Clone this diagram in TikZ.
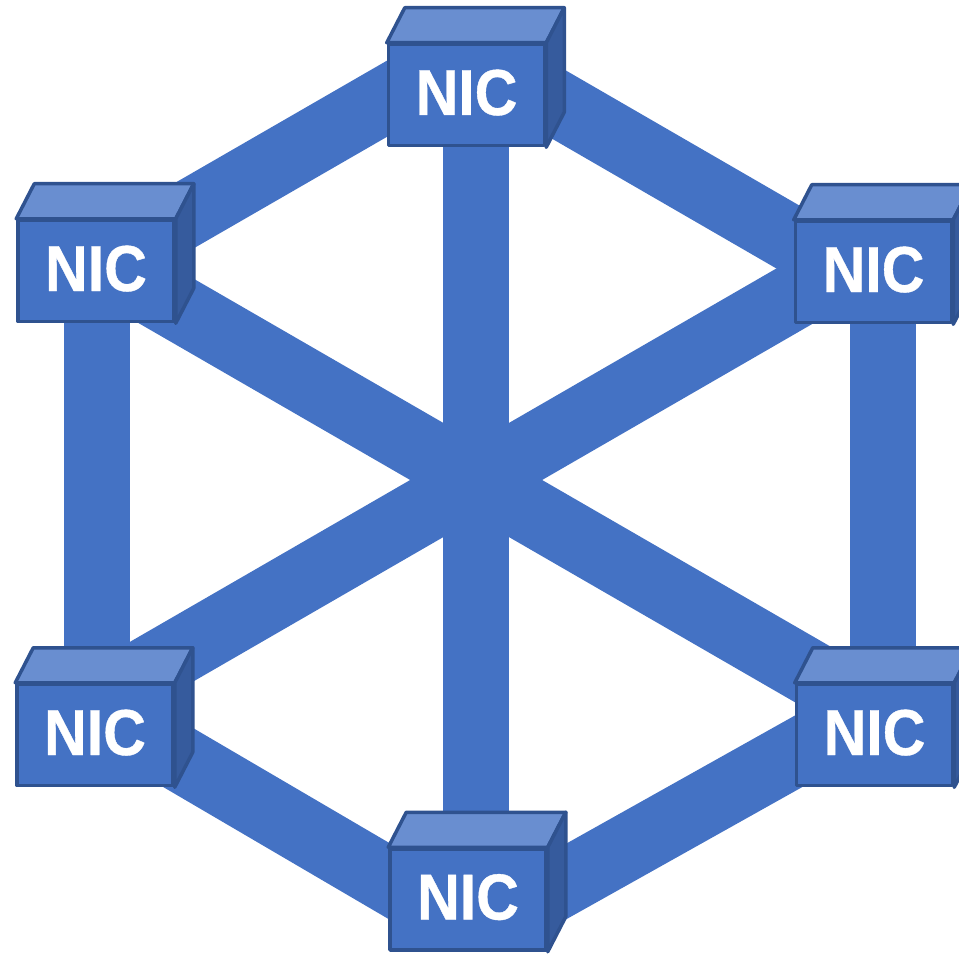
\documentclass[tikz,border=0pt]{standalone}
\usepackage{fontspec}
\setmainfont{Liberation Sans}
\newfontfamily\nicfont[FakeStretch=0.91, FakeBold=0.6]{Liberation Sans}
\usepackage{xcolor}
\definecolor{nicblue}{RGB}{68, 114, 196}
\definecolor{nictop}{RGB}{105, 142, 208}
\definecolor{nicside}{RGB}{54, 91, 157}
\definecolor{nicedge}{RGB}{47, 82, 143}
\usepackage{tikz}
\usetikzlibrary{calc}

\tikzset{
    bar/.style={line width=66pt, nicblue},
    nicbox/.style={rectangle, draw=nicedge, fill=nicblue, line width=3.5pt, line join=round,
        minimum width=156pt, minimum height=101pt, inner sep=0pt, text=white,
        text height=47pt, text depth=7pt,
        font=\nicfont\bfseries\fontsize{65}{65}\selectfont},
    nicface/.style={draw=nicedge, line width=3.5pt, line join=round},
}

\begin{document}
\begin{tikzpicture}[x=1pt, y=-1pt]
    \useasboundingbox (0,0) rectangle (959,955);

    % ring corners
    \coordinate (vT) at (468,52);
    \coordinate (vUL) at (97,266);
    \coordinate (vUR) at (883,292);
    \coordinate (vLL) at (97,710);
    \coordinate (vLR) at (883,704);
    \coordinate (vB) at (476,932);
    % spoke ends
    \coordinate (sT) at (476,80);
    \coordinate (sB) at (476,920);
    \coordinate (sUL) at (97,261);
    \coordinate (sLR) at (883,715);
    \coordinate (sUR) at (883,245);
    \coordinate (sLL) at (97,699);

    \foreach \a/\b in {vT/vUL, vUL/vLL, vLL/vB, vB/vLR, vLR/vUR, vUR/vT}
        \draw[bar, shorten <=20pt, shorten >=20pt] (\a) -- (\b);
    \draw[bar] (sT) -- (sB);
    \draw[bar] (sUL) -- (sLR);
    \draw[bar] (sUR) -- (sLL);

    \node[nicbox] (nicT) at (466.5,95) {NIC};
    \node[nicbox] (nicUL) at (96,271) {NIC};
    \node[nicbox] (nicUR) at (873.5,272) {NIC};
    \node[nicbox] (nicLL) at (95,735) {NIC};
    \node[nicbox] (nicLR) at (874.5,735) {NIC};
    \node[nicbox] (nicB) at (468,899.5) {NIC};

    \foreach \n in {nicT, nicUL, nicUR, nicLL, nicLR, nicB} {
        \filldraw[nicface, fill=nictop] (\n.north west) -- ++(18,-35)
            -- ([shift={(18pt,35pt)}]\n.north east) -- (\n.north east) -- cycle;
        \filldraw[nicface, fill=nicside] (\n.north east) -- ++(18,-35)
            -- ([shift={(18pt,35pt)}]\n.south east) -- (\n.south east) -- cycle;
    }
\end{tikzpicture}
\end{document}
